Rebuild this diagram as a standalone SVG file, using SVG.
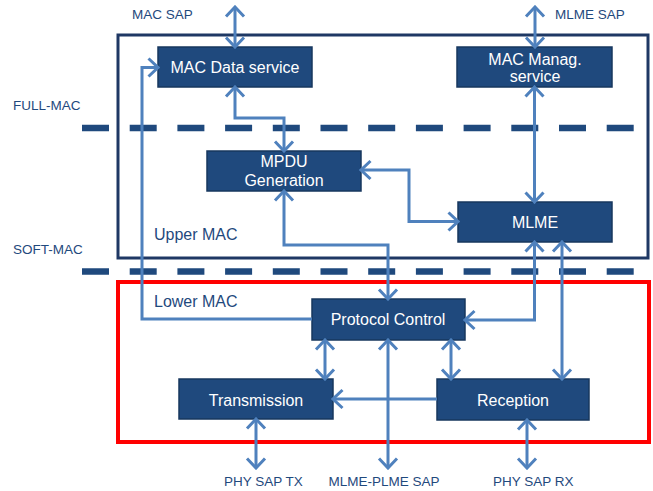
<svg xmlns="http://www.w3.org/2000/svg" width="653" height="491" viewBox="0 0 653 491">
  <defs>
    <style>
      .node rect { fill: #1F497D; stroke: #17375E; stroke-width: 1.5; }
      .node text { fill: #FFFFFF; font-family: "Liberation Sans", Arial, sans-serif; font-size: 16px; text-anchor: middle; }
      .label { fill: #1F497D; font-family: "Liberation Sans", Arial, sans-serif; font-size: 13.5px; }
      .zone { fill: #1F497D; font-family: "Liberation Sans", Arial, sans-serif; font-size: 16px; }
      .split { stroke: #1F497D; stroke-width: 6.5; stroke-dasharray: 27 20.7; fill: none; }
      .conn { fill: none; stroke: #4F81BD; stroke-width: 3; }
    </style>
    <marker id="chev" markerUnits="userSpaceOnUse" viewBox="-12 -11 14 22" refX="0" refY="0" markerWidth="14" markerHeight="22" orient="auto-start-reverse">
      <path d="M -9.5 -9 L 0 0 L -9.5 9" fill="none" stroke="#4F81BD" stroke-width="3"/>
    </marker>
  </defs>

  <!-- Upper MAC enclosure -->
  <rect x="118" y="35" width="530" height="223" fill="none" stroke="#1F3864" stroke-width="3"/>
  <!-- Lower MAC enclosure -->
  <rect x="118" y="282" width="531" height="160" fill="none" stroke="#FF0000" stroke-width="4"/>

  <!-- FULL-MAC / SOFT-MAC split lines -->
  <line class="split" x1="82" y1="128" x2="634" y2="128"/>
  <line class="split" x1="82" y1="271.5" x2="634" y2="271.5"/>

  <!-- Labels -->
  <text class="label" x="132" y="19">MAC SAP</text>
  <text class="label" x="555" y="19">MLME SAP</text>
  <text class="label" x="13" y="110">FULL-MAC</text>
  <text class="label" x="13" y="254">SOFT-MAC</text>
  <text class="zone" x="154" y="240">Upper MAC</text>
  <text class="zone" x="154" y="307">Lower MAC</text>
  <text class="label" x="224" y="486">PHY SAP TX</text>
  <text class="label" x="384" y="486" text-anchor="middle">MLME-PLME SAP</text>
  <text class="label" x="493" y="486">PHY SAP RX</text>

  <!-- Nodes -->
  <g id="mac-data-service" class="node">
    <rect x="158" y="47" width="154" height="40"/>
    <text x="235" y="73">MAC Data service</text>
  </g>
  <g id="mac-manag-service" class="node">
    <rect x="457" y="47" width="155" height="40"/>
    <text x="535" y="64.5">MAC Manag.</text>
    <text x="535" y="82">service</text>
  </g>
  <g id="mpdu-generation" class="node">
    <rect x="207" y="151" width="154" height="40"/>
    <text x="284" y="167">MPDU</text>
    <text x="284" y="186">Generation</text>
  </g>
  <g id="mlme" class="node">
    <rect x="458" y="202" width="154" height="40"/>
    <text x="535" y="228">MLME</text>
  </g>
  <g id="protocol-control" class="node">
    <rect x="312" y="299" width="153" height="41"/>
    <text x="388" y="325">Protocol Control</text>
  </g>
  <g id="transmission" class="node">
    <rect x="179" y="379" width="154" height="40"/>
    <text x="256" y="406">Transmission</text>
  </g>
  <g id="reception" class="node">
    <rect x="437" y="379" width="152" height="41"/>
    <text x="513" y="406">Reception</text>
  </g>

  <!-- Connectors -->
  <g id="connectors" class="conn">
    <path d="M235 7 V47" marker-start="url(#chev)" marker-end="url(#chev)"/>
    <path d="M535 7 V47" marker-start="url(#chev)" marker-end="url(#chev)"/>
    <path d="M235 87 V118 H284 V151" marker-start="url(#chev)" marker-end="url(#chev)"/>
    <path d="M534.5 87 V202" marker-start="url(#chev)" marker-end="url(#chev)"/>
    <path d="M361 170 H409 V221.5 H458" marker-start="url(#chev)" marker-end="url(#chev)"/>
    <path d="M284 191 V245 H388 V299" marker-start="url(#chev)" marker-end="url(#chev)"/>
    <path d="M312 319 H142 V67.5 H158" marker-end="url(#chev)"/>
    <path d="M534.5 242 V320 H465" marker-start="url(#chev)" marker-end="url(#chev)"/>
    <path d="M562 242 V379" marker-start="url(#chev)" marker-end="url(#chev)"/>
    <path d="M325 340 V379" marker-start="url(#chev)" marker-end="url(#chev)"/>
    <path d="M451 340 V379" marker-start="url(#chev)" marker-end="url(#chev)"/>
    <path d="M388 340 V468" marker-start="url(#chev)" marker-end="url(#chev)"/>
    <path d="M437 399 H333" marker-end="url(#chev)"/>
    <path d="M256 419 V468" marker-start="url(#chev)" marker-end="url(#chev)"/>
    <path d="M527 420 V468" marker-start="url(#chev)" marker-end="url(#chev)"/>
  </g>
</svg>
